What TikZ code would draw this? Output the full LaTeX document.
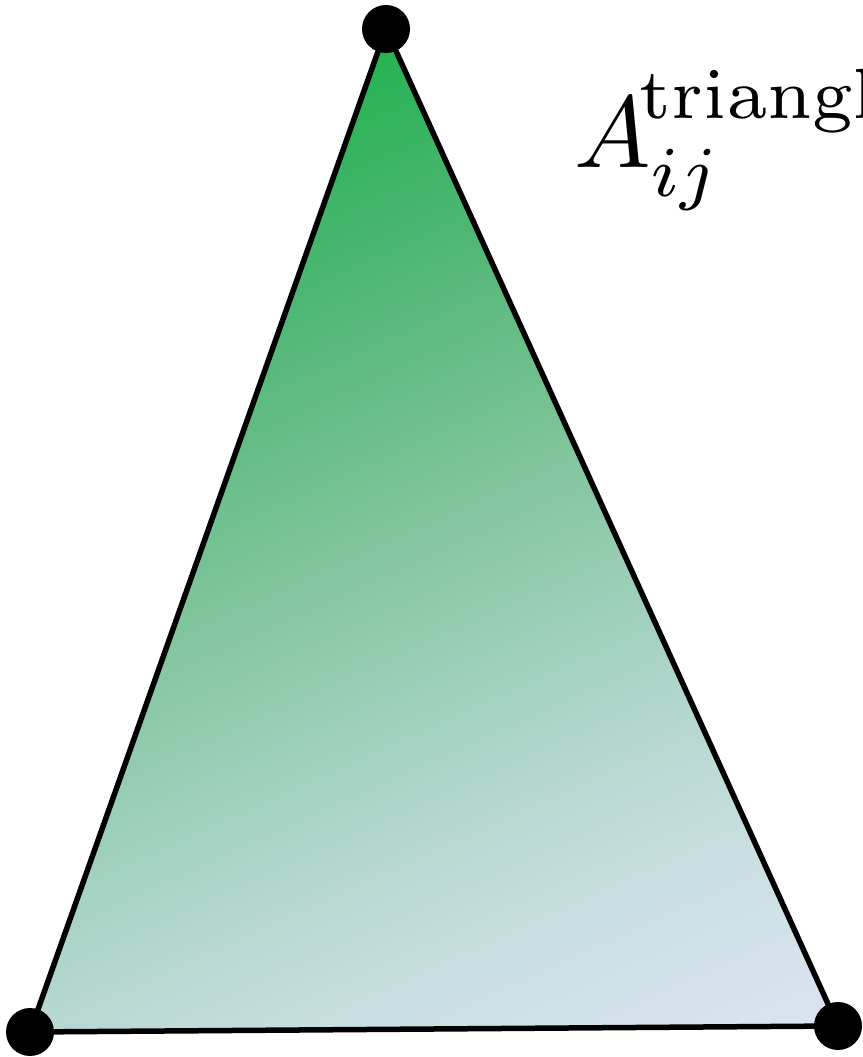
\documentclass[tikz,border=0pt]{standalone}
\definecolor{gA}{RGB}{34,178,79}
\definecolor{gB}{RGB}{76,182,115}
\definecolor{gC}{RGB}{127,196,154}
\definecolor{gD}{RGB}{165,210,194}
\definecolor{gE}{RGB}{182,215,208}
\definecolor{gF}{RGB}{202,223,226}
\definecolor{gG}{RGB}{219,228,242}
\pgfdeclareverticalshading{trishade}{100bp}{%
  color(0bp)=(gG); color(25bp)=(gG); color(33.85bp)=(gF); color(40.5bp)=(gE);
  color(44.75bp)=(gD); color(54.5bp)=(gC); color(65.7bp)=(gB);
  color(75bp)=(gA); color(100bp)=(gA)}
\begin{document}
\begin{tikzpicture}[x=1pt,y=1pt,
  vertexdot/.style={circle,fill=black,minimum size=48pt,inner sep=0pt},
  edgeline/.style={draw=black,line width=5.5pt,line join=round}]
\useasboundingbox (0,0) rectangle (862,1057);
\clip (0,0) rectangle (862,1057);
\coordinate (T) at (386,1028);
\coordinate (L) at (30,25);
\coordinate (R) at (838,31);
\begin{scope}
  \clip (T) -- (R) -- (L) -- cycle;
  \begin{scope}[transform canvas={shift={(386,1028)},rotate=24.4}]
    \shade[shading=trishade] (-1200,0) rectangle (1200,-1094.7);
  \end{scope}
\end{scope}
\path[edgeline] (T) -- (R) -- (L) -- cycle;
\node[vertexdot] (vt) at (T) {};
\node[vertexdot] (vl) at (L) {};
\node[vertexdot] (vr) at (R) {};
\node[anchor=base west,inner sep=0pt,scale=10.2] (lab) at (572,889)
  {$A_{ij}^{\mkern-2.3mu\mathrm{triangle}}$};
\end{tikzpicture}
\end{document}
